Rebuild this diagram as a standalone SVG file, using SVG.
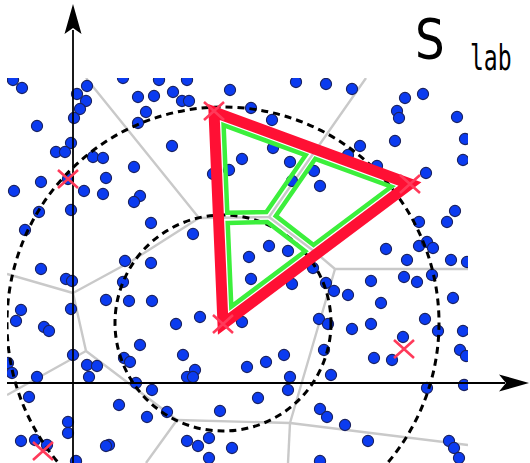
<svg xmlns="http://www.w3.org/2000/svg" width="530" height="463" viewBox="0 0 530 463">
<style>
.vor{fill:none;stroke:#c9c9c9;stroke-width:2.4;stroke-linejoin:round}
.dash{fill:none;stroke:#000;stroke-width:3;stroke-dasharray:7 5}
.axis{fill:none;stroke:#000;stroke-width:1.8}
.mk{fill:none;stroke:#ff3a5a;stroke-width:2.6}
.cell{fill:none;stroke:#3cef3c;stroke-width:4.5;stroke-linejoin:miter}
#points circle{r:5.6px}
</style>
<defs>
<clipPath id="area"><rect x="7" y="78" width="461" height="385"/></clipPath>
<path id="x" d="M-10,-9L10,9M-10,9L10,-9"/>
</defs>
<rect width="530" height="463" fill="#fff"/>
<g clip-path="url(#area)">
<g id="voronoi" class="vor">
<path d="M86,78L199,218L269,217L366,78"/>
<path d="M269,217L315,252L335,269L468,269"/>
<path d="M335,269L290,423L468,445"/>
<path d="M290,423L288,463"/>
<path d="M290,423L177,420L146,463"/>
<path d="M177,420L86,351L7,395"/>
<path d="M86,351L77,311L73,293L7,274"/>
<path d="M73,293L130,262L199,218"/>
</g>
<g id="points" fill="#0b3bf0" stroke="#1a2260" stroke-width="1.1">
<circle cx="13" cy="80" r="5.6"/><circle cx="22" cy="88" r="5.6"/><circle cx="87" cy="86" r="5.6"/><circle cx="77" cy="94" r="5.6"/><circle cx="86" cy="101" r="5.6"/><circle cx="80" cy="109" r="5.6"/><circle cx="74" cy="118" r="5.6"/><circle cx="37" cy="126" r="5.6"/><circle cx="71" cy="143" r="5.6"/><circle cx="56" cy="152" r="5.6"/><circle cx="65" cy="152" r="5.6"/><circle cx="93" cy="157" r="5.6"/><circle cx="103" cy="158" r="5.6"/><circle cx="68" cy="179" r="5.6"/><circle cx="41" cy="182" r="5.6"/><circle cx="106" cy="178" r="5.6"/><circle cx="14" cy="191" r="5.6"/><circle cx="84" cy="191" r="5.6"/><circle cx="103" cy="194" r="5.6"/><circle cx="39" cy="212" r="5.6"/><circle cx="71" cy="210" r="5.6"/><circle cx="25" cy="230" r="5.6"/><circle cx="41" cy="269" r="5.6"/>
<circle cx="123" cy="78" r="5.6"/><circle cx="159" cy="80" r="5.6"/><circle cx="187" cy="80" r="5.6"/><circle cx="230" cy="90" r="5.6"/><circle cx="138" cy="97" r="5.6"/><circle cx="154" cy="96" r="5.6"/><circle cx="173" cy="92" r="5.6"/><circle cx="182" cy="101" r="5.6"/><circle cx="189" cy="101" r="5.6"/><circle cx="146" cy="112" r="5.6"/><circle cx="138" cy="123" r="5.6"/><circle cx="172" cy="146" r="5.6"/><circle cx="134" cy="167" r="5.6"/><circle cx="140" cy="196" r="5.6"/><circle cx="134" cy="202" r="5.6"/><circle cx="151" cy="223" r="5.6"/><circle cx="193" cy="234" r="5.6"/><circle cx="125" cy="261" r="5.6"/><circle cx="151" cy="263" r="5.6"/><circle cx="213" cy="174" r="5.6"/><circle cx="229" cy="170" r="5.6"/><circle cx="242" cy="159" r="5.6"/>
<circle cx="296" cy="82" r="5.6"/><circle cx="326" cy="84" r="5.6"/><circle cx="352" cy="89" r="5.6"/><circle cx="251" cy="108" r="5.6"/><circle cx="272" cy="120" r="5.6"/><circle cx="273" cy="148" r="5.6"/><circle cx="290" cy="162" r="5.6"/><circle cx="314" cy="171" r="5.6"/><circle cx="292" cy="181" r="5.6"/><circle cx="320" cy="186" r="5.6"/><circle cx="360" cy="146" r="5.6"/><circle cx="348" cy="155" r="5.6"/><circle cx="269" cy="246" r="5.6"/><circle cx="288" cy="251" r="5.6"/><circle cx="249" cy="257" r="5.6"/><circle cx="313" cy="268" r="5.6"/>
<circle cx="405" cy="98" r="5.6"/><circle cx="423" cy="94" r="5.6"/><circle cx="397" cy="111" r="5.6"/><circle cx="399" cy="118" r="5.6"/><circle cx="457" cy="117" r="5.6"/><circle cx="465" cy="139" r="5.6"/><circle cx="395" cy="141" r="5.6"/><circle cx="463" cy="160" r="5.6"/><circle cx="377" cy="166" r="5.6"/><circle cx="426" cy="173" r="5.6"/><circle cx="455" cy="211" r="5.6"/><circle cx="447" cy="222" r="5.6"/><circle cx="419" cy="222" r="5.6"/><circle cx="386" cy="249" r="5.6"/><circle cx="419" cy="246" r="5.6"/><circle cx="427" cy="242" r="5.6"/><circle cx="433" cy="248" r="5.6"/><circle cx="407" cy="260" r="5.6"/><circle cx="451" cy="260" r="5.6"/><circle cx="467" cy="262" r="5.6"/>
<circle cx="66" cy="279" r="5.6"/><circle cx="72" cy="281" r="5.6"/><circle cx="106" cy="300" r="5.6"/><circle cx="21" cy="310" r="5.6"/><circle cx="16" cy="321" r="5.6"/><circle cx="71" cy="309" r="5.6"/><circle cx="44" cy="327" r="5.6"/><circle cx="49" cy="331" r="5.6"/><circle cx="73" cy="355" r="5.6"/><circle cx="87" cy="365" r="5.6"/><circle cx="97" cy="366" r="5.6"/><circle cx="89" cy="377" r="5.6"/><circle cx="8" cy="363" r="5.6"/><circle cx="12" cy="373" r="5.6"/><circle cx="37" cy="377" r="5.6"/><circle cx="29" cy="397" r="5.6"/><circle cx="119" cy="405" r="5.6"/><circle cx="68" cy="422" r="5.6"/><circle cx="68" cy="433" r="5.6"/><circle cx="21" cy="441" r="5.6"/><circle cx="35" cy="440" r="5.6"/><circle cx="47" cy="445" r="5.6"/><circle cx="109" cy="445" r="5.6"/><circle cx="106" cy="446" r="5.6"/><circle cx="76" cy="461" r="5.6"/>
<circle cx="123" cy="282" r="5.6"/><circle cx="129" cy="301" r="5.6"/><circle cx="152" cy="301" r="5.6"/><circle cx="176" cy="324" r="5.6"/><circle cx="200" cy="317" r="5.6"/><circle cx="140" cy="345" r="5.6"/><circle cx="124" cy="358" r="5.6"/><circle cx="130" cy="362" r="5.6"/><circle cx="183" cy="355" r="5.6"/><circle cx="195" cy="370" r="5.6"/><circle cx="187" cy="377" r="5.6"/><circle cx="193" cy="377" r="5.6"/><circle cx="136" cy="383" r="5.6"/><circle cx="152" cy="390" r="5.6"/><circle cx="147" cy="417" r="5.6"/><circle cx="167" cy="412" r="5.6"/><circle cx="220" cy="411" r="5.6"/><circle cx="187" cy="441" r="5.6"/><circle cx="198" cy="446" r="5.6"/><circle cx="209" cy="438" r="5.6"/><circle cx="232" cy="448" r="5.6"/><circle cx="209" cy="458" r="5.6"/>
<circle cx="251" cy="279" r="5.6"/><circle cx="292" cy="284" r="5.6"/><circle cx="326" cy="283" r="5.6"/><circle cx="334" cy="291" r="5.6"/><circle cx="348" cy="295" r="5.6"/><circle cx="242" cy="322" r="5.6"/><circle cx="319" cy="319" r="5.6"/><circle cx="328" cy="324" r="5.6"/><circle cx="352" cy="329" r="5.6"/><circle cx="324" cy="350" r="5.6"/><circle cx="284" cy="355" r="5.6"/><circle cx="266" cy="362" r="5.6"/><circle cx="247" cy="367" r="5.6"/><circle cx="290" cy="377" r="5.6"/><circle cx="288" cy="390" r="5.6"/><circle cx="331" cy="375" r="5.6"/><circle cx="258" cy="398" r="5.6"/><circle cx="320" cy="409" r="5.6"/><circle cx="327" cy="417" r="5.6"/><circle cx="345" cy="425" r="5.6"/><circle cx="320" cy="461" r="5.6"/>
<circle cx="371" cy="281" r="5.6"/><circle cx="404" cy="277" r="5.6"/><circle cx="417" cy="282" r="5.6"/><circle cx="432" cy="275" r="5.6"/><circle cx="453" cy="298" r="5.6"/><circle cx="381" cy="303" r="5.6"/><circle cx="371" cy="324" r="5.6"/><circle cx="425" cy="319" r="5.6"/><circle cx="438" cy="331" r="5.6"/><circle cx="463" cy="331" r="5.6"/><circle cx="403" cy="337" r="5.6"/><circle cx="460" cy="350" r="5.6"/><circle cx="466" cy="356" r="5.6"/><circle cx="374" cy="358" r="5.6"/><circle cx="392" cy="360" r="5.6"/><circle cx="427" cy="388" r="5.6"/><circle cx="464" cy="385" r="5.6"/><circle cx="368" cy="441" r="5.6"/><circle cx="449" cy="441" r="5.6"/><circle cx="454" cy="448" r="5.6"/><circle cx="459" cy="458" r="5.6"/>
</g>
<g id="circles">
<circle class="dash" cx="223" cy="323" r="216"/>
<circle class="dash" cx="223" cy="323" r="108"/>
</g>
</g>
<g id="axes">
<path class="axis" d="M73,463V30"/>
<path d="M73,4L81.5,34L73,28L64.5,34Z" fill="#000"/>
<path class="axis" d="M7,383H505"/>
<path d="M529,383L499,374.5L506,383L499,391.5Z" fill="#000"/>
</g>
<g id="triangle">
<polygon points="214,112 410,184 223,324" fill="none" stroke="#ff1034" stroke-width="11" stroke-linejoin="miter"/>
</g>
<g id="cells" class="cell">
<polygon points="223.6,125.1 305.6,155.2 266.4,212 227.3,212.8"/>
<polygon points="315.3,158.8 391.3,186.7 313.5,245 275.8,215.9"/>
<polygon points="227.7,222.9 267.3,222 305.2,251.2 231.3,306.6"/>
</g>
<g id="markers" class="mk">
<use href="#x" x="214" y="111"/>
<use href="#x" x="410" y="184"/>
<use href="#x" x="223" y="324"/>
<use href="#x" x="68" y="179"/>
<use href="#x" x="404" y="349"/>
<use href="#x" x="43" y="451"/>
</g>
<g id="label" fill="#000">
<text transform="translate(415,58) scale(0.85,1)" font-family="DejaVu Sans, sans-serif" font-size="55">S</text>
<text transform="translate(470,70) scale(0.64,1)" font-family="DejaVu Sans Mono, monospace" font-size="36">lab</text>
</g>
</svg>
